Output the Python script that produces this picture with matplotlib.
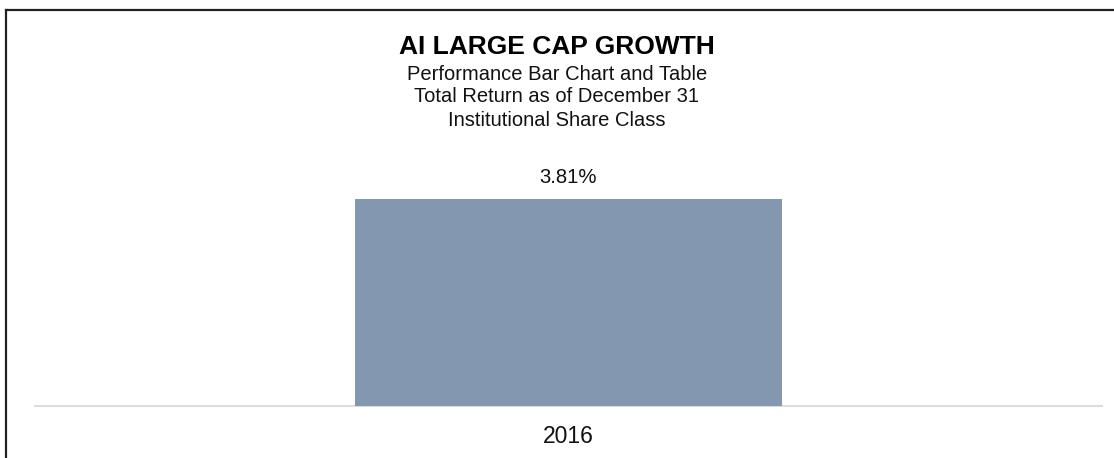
import matplotlib
matplotlib.use("Agg")
import matplotlib.pyplot as plt
from matplotlib.lines import Line2D

plt.rcParams['font.family'] = ['Liberation Sans', 'DejaVu Sans']

years = ['2016']
returns = [3.81]
labels = ['3.81%']

W, H = 1114, 458
fig = plt.figure(figsize=(W / 100, H / 100), dpi=100)

# axes placed in pixel terms
ax = fig.add_axes([35 / W, (H - 405.5) / H, 1067 / W, 245.5 / H])
ax.bar(range(len(years)), returns, width=0.4, color='#8497b0')
ax.set_xlim(-0.5, 0.5)
ax.set_ylim(0, 4.53)
for i, (v, lab) in enumerate(zip(returns, labels)):
    ax.annotate(lab, xy=(i, v), xytext=(0, 22), textcoords='offset pixels',
                ha='center', va='center', fontsize=14.6, color='#111111')

for s in ax.spines.values():
    s.set_visible(False)
ax.axhline(0, color='#dcdcdc', lw=1.5, clip_on=False, zorder=0)
ax.set_yticks([])
ax.set_xticks(range(len(years)))
ax.set_xticklabels(years, fontsize=16.5, color='#111111')
ax.tick_params(axis='x', length=0, pad=14)

# titles
fig.text(0.5, 1 - 46.5 / H, 'AI LARGE CAP GROWTH', ha='center', va='center',
         fontsize=19, fontweight='bold', color='#000000')
subs = ['Performance Bar Chart and Table', 'Total Return as of December 31',
        'Institutional Share Class']
for s, y in zip(subs, [74, 96.5, 120.5]):
    fig.text(0.5, 1 - y / H, s, ha='center', va='center', fontsize=14.5, color='#111111')

# frame lines (top and left)
fig.add_artist(Line2D([6 / W, 6 / W], [0, 1 - 10 / H], color='#222222', lw=1.6))
fig.add_artist(Line2D([6 / W, 1], [1 - 10 / H, 1 - 10 / H], color='#222222', lw=1.6))

fig.savefig('out.png', dpi=100)
